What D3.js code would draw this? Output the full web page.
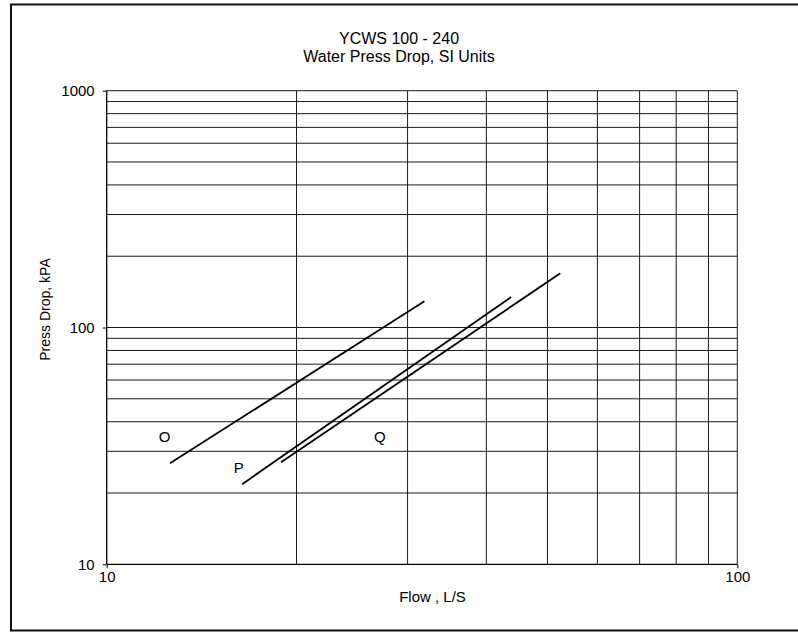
<!DOCTYPE html>
<html>
<head>
<meta charset="utf-8">
<script src="https://cdn.jsdelivr.net/npm/d3@7/dist/d3.min.js"></script>
<style>
  html, body { margin: 0; padding: 0; background: #fff; }
  svg { display: block; }
  text { font-family: "Liberation Sans", Arial, sans-serif; fill: #000; }
</style>
</head>
<body>
<svg id="chart" width="798" height="632"></svg>
<script>
// ---- data ----
const titleLines = ["YCWS 100 - 240", "Water Press Drop, SI Units"];
const xLabel = "Flow , L/S";
const yLabel = "Press Drop, kPA";
const xDomain = [10, 100];
const yDomain = [10, 1000];
const xTickLabels = [10, 100];
const yTickLabels = [10, 100, 1000];
const xGrid = [20, 30, 40, 50, 60, 70, 80, 90, 100];
const yGrid = [20, 30, 40, 50, 60, 70, 80, 90, 100, 200, 300, 400, 500, 600, 700, 800, 900, 1000];

const seriesNames = ["O", "P", "Q"];
const flowO = [12.6, 31.9];
const dropO = [26.7, 129.0];
const flowP = [16.4, 43.8];
const dropP = [21.8, 134.5];
const flowQ = [18.9, 52.4];
const dropQ = [27.0, 169.4];
const labelFlow = [12.35, 16.2, 27.1];
const labelDrop = [32.9, 24.3, 32.9];

// ---- layout ----
const svg = d3.select("#chart");
const plotL = 106.7, plotR = 737.3, plotT = 90.7, plotB = 564.3;
const x = d3.scaleLog().domain(xDomain).range([plotL, plotR]);
const y = d3.scaleLog().domain(yDomain).range([plotB, plotT]);
const fsTick = 15, fsTitle = 16, fsLabel = 15, fsYLabel = 14;

// outer frame
svg.append("rect")
  .attr("x", 11).attr("y", 4.5)
  .attr("width", 800).attr("height", 626)
  .attr("fill", "none").attr("stroke", "#111").attr("stroke-width", 2);

// grid
const g = svg.append("g");
g.selectAll("line.yg").data(yGrid).join("line")
  .attr("class", "yg")
  .attr("x1", plotL).attr("x2", plotR)
  .attr("y1", d => y(d)).attr("y2", d => y(d))
  .attr("stroke", "#1a1a1a").attr("stroke-width", 1);
g.selectAll("line.xg").data(xGrid).join("line")
  .attr("class", "xg")
  .attr("x1", d => x(d)).attr("x2", d => x(d))
  .attr("y1", plotT).attr("y2", plotB)
  .attr("stroke", "#1a1a1a").attr("stroke-width", 1);

// axes
const yAxis = d3.axisLeft(y).tickValues(yTickLabels).tickFormat(d3.format("d")).tickSize(4).tickPadding(8);
const xAxis = d3.axisBottom(x).tickValues(xTickLabels).tickFormat(d3.format("d")).tickSize(4).tickPadding(3);
const ya = svg.append("g").attr("transform", `translate(${plotL},0)`).call(yAxis);
const xa = svg.append("g").attr("transform", `translate(0,${plotB})`).call(xAxis);
[ya, xa].forEach(a => {
  a.select(".domain").attr("stroke", "#000").attr("stroke-width", 1.3);
  a.selectAll(".tick line").attr("stroke", "#000");
  a.selectAll(".tick text").attr("font-size", fsTick).attr("font-family", "Liberation Sans, Arial, sans-serif").attr("fill", "#000");
});
xa.select(".domain").attr("d", `M${plotL},0H${plotR}`);
ya.select(".domain").attr("d", `M0,${plotB}V${plotT}`);

// series lines
const series = [
  { flow: flowO, drop: dropO },
  { flow: flowP, drop: dropP },
  { flow: flowQ, drop: dropQ }
];
const line = d3.line().x(d => x(d[0])).y(d => y(d[1]));
svg.append("g").selectAll("path").data(series).join("path")
  .attr("d", s => line(s.flow.map((f, i) => [f, s.drop[i]])))
  .attr("fill", "none").attr("stroke", "#000").attr("stroke-width", 1.8);

// series labels
svg.append("g").selectAll("text").data(seriesNames).join("text")
  .attr("x", (d, i) => x(labelFlow[i]))
  .attr("y", (d, i) => y(labelDrop[i]))
  .attr("text-anchor", "middle")
  .attr("font-size", fsLabel)
  .text(d => d);

// titles
svg.append("g").selectAll("text").data(titleLines).join("text")
  .attr("x", 399).attr("y", (d, i) => 43.5 + i * 18.5)
  .attr("text-anchor", "middle")
  .attr("font-size", fsTitle)
  .text(d => d);

svg.append("text")
  .attr("x", 432.5).attr("y", 601.5)
  .attr("text-anchor", "middle")
  .attr("font-size", fsLabel)
  .text(xLabel);

svg.append("text")
  .attr("transform", "translate(50,309.5) rotate(-90)")
  .attr("text-anchor", "middle")
  .attr("font-size", fsYLabel)
  .text(yLabel);
</script>
</body>
</html>
